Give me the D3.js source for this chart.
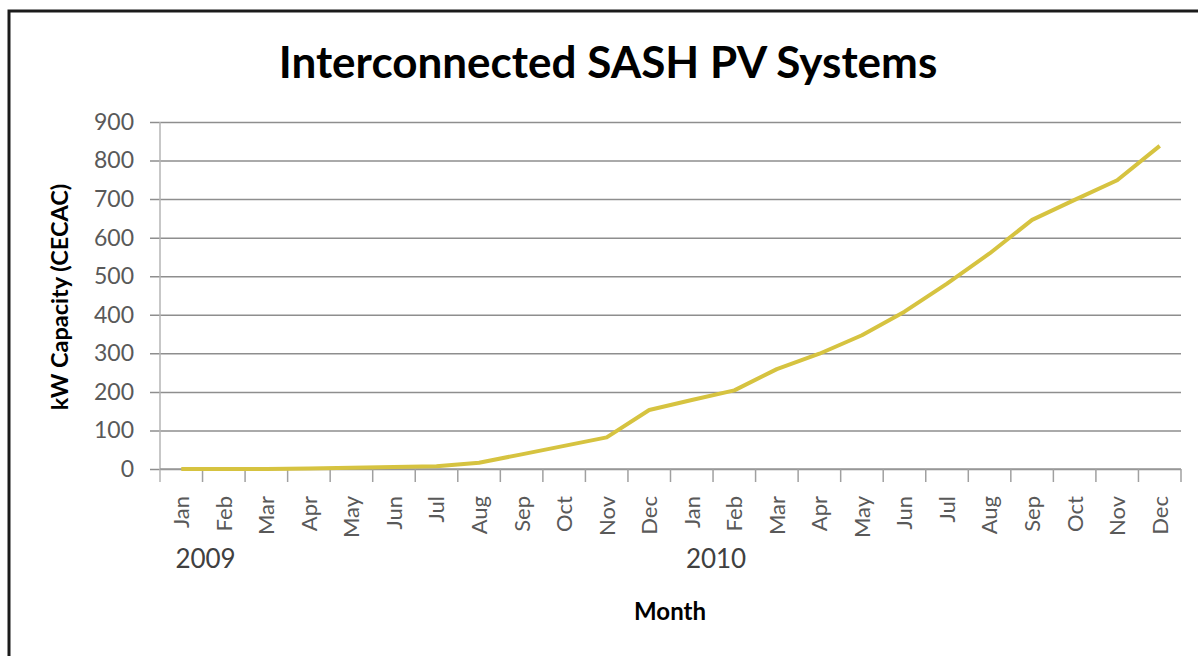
<!DOCTYPE html>
<html>
<head>
<meta charset="utf-8">
<script src="https://cdn.jsdelivr.net/npm/d3@7"></script>
<style>
  html, body { margin: 0; padding: 0; background: #fff; }
  svg { display: block; font-family: Lato, "Open Sans", sans-serif; }
</style>
</head>
<body>
<svg id="chart" width="1198" height="656"></svg>
<script>
const months = ['Jan', 'Feb', 'Mar', 'Apr', 'May', 'Jun', 'Jul', 'Aug', 'Sep', 'Oct', 'Nov', 'Dec',
  'Jan', 'Feb', 'Mar', 'Apr', 'May', 'Jun', 'Jul', 'Aug', 'Sep', 'Oct', 'Nov', 'Dec']
const years = ['2009', '2010']
const capacity = [0, 0, 0, 1, 3, 5, 7, 16, 38, 60, 82, 153,
  179, 204, 259, 299, 347, 408, 481, 559, 646, 698, 749, 838]
const yTicks = [0, 100, 200, 300, 400, 500, 600, 700, 800, 900]

const svg = d3.select('#chart')

// outer frame (only top and left edges fall inside the picture)
svg.append('rect')
  .attr('x', 9).attr('y', 11)
  .attr('width', 1250).attr('height', 700)
  .attr('fill', 'none')
  .attr('stroke', '#1b1b1b')
  .attr('stroke-width', 3)

const plotLeft = 160, plotRight = 1181, plotTop = 122, plotBottom = 469

const x = d3.scaleBand()
  .domain(d3.range(months.length))
  .range([plotLeft, plotRight])
  .padding(0)

const y = d3.scaleLinear()
  .domain([0, 900])
  .range([plotBottom, plotTop])

// gridlines + y labels
const yAxis = svg.append('g')
  .attr('transform', `translate(${plotLeft},0)`)
  .call(d3.axisLeft(y).tickValues(yTicks).tickSize(-(plotRight - plotLeft)).tickSizeOuter(0).tickPadding(26))
yAxis.select('.domain').remove()
yAxis.selectAll('.tick line')
  .attr('x1', -10)
  .attr('stroke', '#8e8e8e')
  .attr('stroke-width', 1.5)
yAxis.selectAll('.tick text')
  .attr('fill', '#595959')
  .style('font-size', '23px')
  .style('font-family', 'Lato, sans-serif')

// y axis line
svg.append('line')
  .attr('x1', plotLeft).attr('x2', plotLeft)
  .attr('y1', plotTop).attr('y2', plotBottom + 13)
  .attr('stroke', '#b4b4b4')
  .attr('stroke-width', 1.5)

// x axis line and boundary ticks
svg.append('line')
  .attr('x1', plotLeft).attr('x2', plotRight)
  .attr('y1', plotBottom).attr('y2', plotBottom)
  .attr('stroke', '#9a9a9a')
  .attr('stroke-width', 1.5)
svg.append('g')
  .selectAll('line')
  .data(d3.range(1, months.length + 1))
  .join('line')
  .attr('x1', i => x(i) ?? plotRight)
  .attr('x2', i => x(i) ?? plotRight)
  .attr('y1', plotBottom)
  .attr('y2', plotBottom + 13)
  .attr('stroke', '#a0a0a0')
  .attr('stroke-width', 1.5)

// month labels
svg.append('g')
  .selectAll('text')
  .data(months)
  .join('text')
  .attr('transform', (d, i) => `translate(${x(i) + x.bandwidth() / 2},496) rotate(-90)`)
  .attr('text-anchor', 'end')
  .attr('dy', '0.36em')
  .attr('fill', '#595959')
  .style('font-size', '22px')
  .text(d => d)

// year labels
svg.append('g')
  .selectAll('text')
  .data(years)
  .join('text')
  .attr('x', (d, i) => x(i * 12 + 1) + 3)
  .attr('y', 568)
  .attr('text-anchor', 'middle')
  .attr('fill', '#404040')
  .style('font-size', '26px')
  .text(d => d)

// series
const line = d3.line()
  .x((d, i) => x(i) + x.bandwidth() / 2)
  .y(d => y(d))

svg.append('path')
  .datum(capacity)
  .attr('fill', 'none')
  .attr('stroke', '#d6c340')
  .attr('stroke-width', 4)
  .attr('stroke-linejoin', 'round')
  .attr('d', line)

// titles
svg.append('text')
  .attr('x', 608).attr('y', 78)
  .attr('text-anchor', 'middle')
  .attr('fill', '#000')
  .style('font-size', '44px')
  .style('font-weight', 'bold')
  .text('Interconnected SASH PV Systems')

svg.append('text')
  .attr('transform', 'translate(68,297) rotate(-90)')
  .attr('text-anchor', 'middle')
  .attr('fill', '#000')
  .style('font-size', '23.5px')
  .style('font-weight', 'bold')
  .text('kW Capacity (CECAC)')

svg.append('text')
  .attr('x', 670).attr('y', 620)
  .attr('text-anchor', 'middle')
  .attr('fill', '#000')
  .style('font-size', '24px')
  .style('font-weight', 'bold')
  .text('Month')
</script>
</body>
</html>
